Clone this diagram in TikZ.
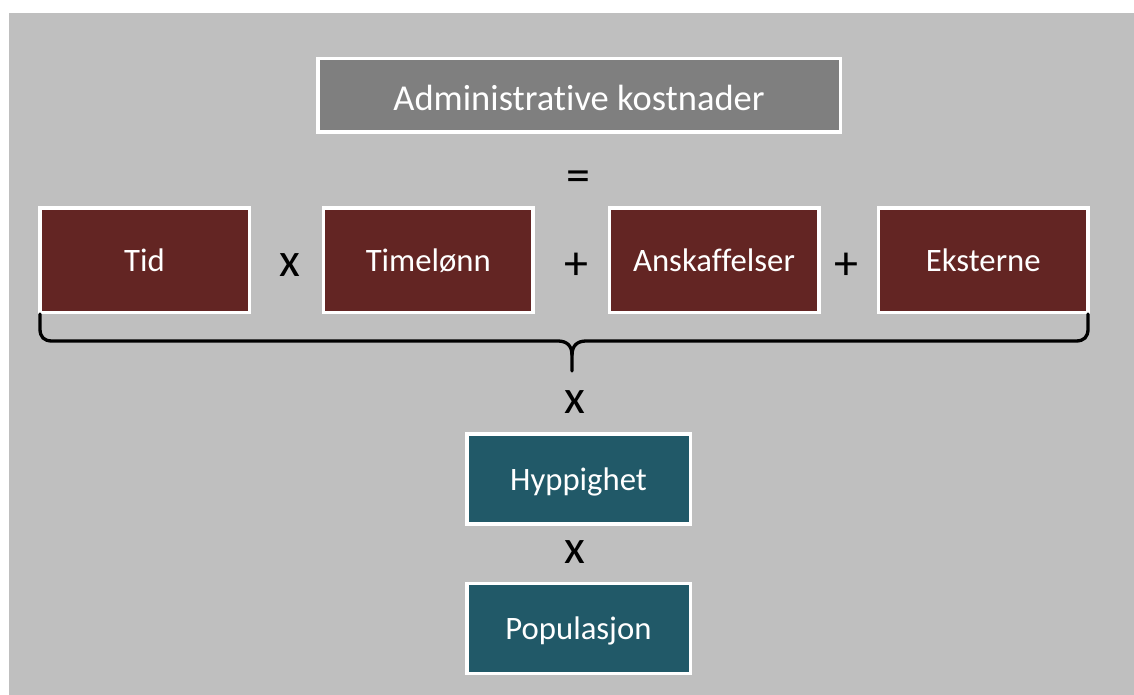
\documentclass[tikz,border=0pt]{standalone}
\usepackage{fontspec}
\setmainfont{Carlito}[Ligatures=NoCommon]
\definecolor{bggray}{HTML}{BFBFBF}
\definecolor{headgray}{HTML}{7F7F7F}
\definecolor{maroon}{HTML}{632523}
\definecolor{tealbox}{HTML}{215968}
\tikzset{
  box/.style={draw=white, line width=3.5pt, inner sep=0pt, text=white,
    font=\fontsize{32.7}{36}\selectfont, text height=23pt, text depth=0pt,
    minimum width=209.5pt, minimum height=104.5pt},
  redbox/.style={box, fill=maroon},
  bluebox/.style={box, fill=tealbox, minimum width=223.5pt, minimum height=90pt},
  op/.style={anchor=base, inner sep=0pt, font=\fontsize{48}{50}\selectfont, text=black},
  brace/.style={draw=black, line width=3.3pt, line cap=round, line join=round}
}
\begin{document}
\begin{tikzpicture}[x=1pt,y=-1pt]
\useasboundingbox (0,0) rectangle (1134,695);
\fill[bggray] (9,13) rectangle (1134,695);

\node[box, fill=headgray, minimum width=522.5pt, minimum height=73.5pt,
  font=\fontsize{36.5}{40}\selectfont, text height=30pt] (admin) at (579,95.5) {Administrative kostnader};

\node[redbox] (tid) at (144.5,260) {Tid};
\node[redbox] (time) at (428.25,260) {Timelønn};
\node[redbox] (ansk) at (714,260) {Anskaffelser};
\node[redbox] (ekst) at (983.25,260) {Eksterne};

\node[bluebox] (hypp) at (578.5,478.75) {Hyppighet};
\node[bluebox] (pop) at (578.5,628.25) {Populasjon};

\node[op] (eq) at (578,191) {=};
\node[op] (x1) at (290,276) {x};
\node[op] (p1) at (576,279) {+};
\node[op] (p2) at (846.7,279) {+};
\node[op] (x2) at (575,413) {x};
\node[op] (x3) at (575,563) {x};

\coordinate (bl) at (40,314);
\coordinate (br) at (1088,314);
\coordinate (tip) at (572,371);
\draw[brace] (bl) -- (40,329) .. controls (40,337) and (44,341) .. (52,341) -- (558,341)
  .. controls (567,341) and (572,346) .. (572,355) -- (tip);
\draw[brace] (br) -- (1088,329) .. controls (1088,337) and (1084,341) .. (1076,341) -- (586,341)
  .. controls (577,341) and (572,346) .. (572,355);
\end{tikzpicture}
\end{document}
